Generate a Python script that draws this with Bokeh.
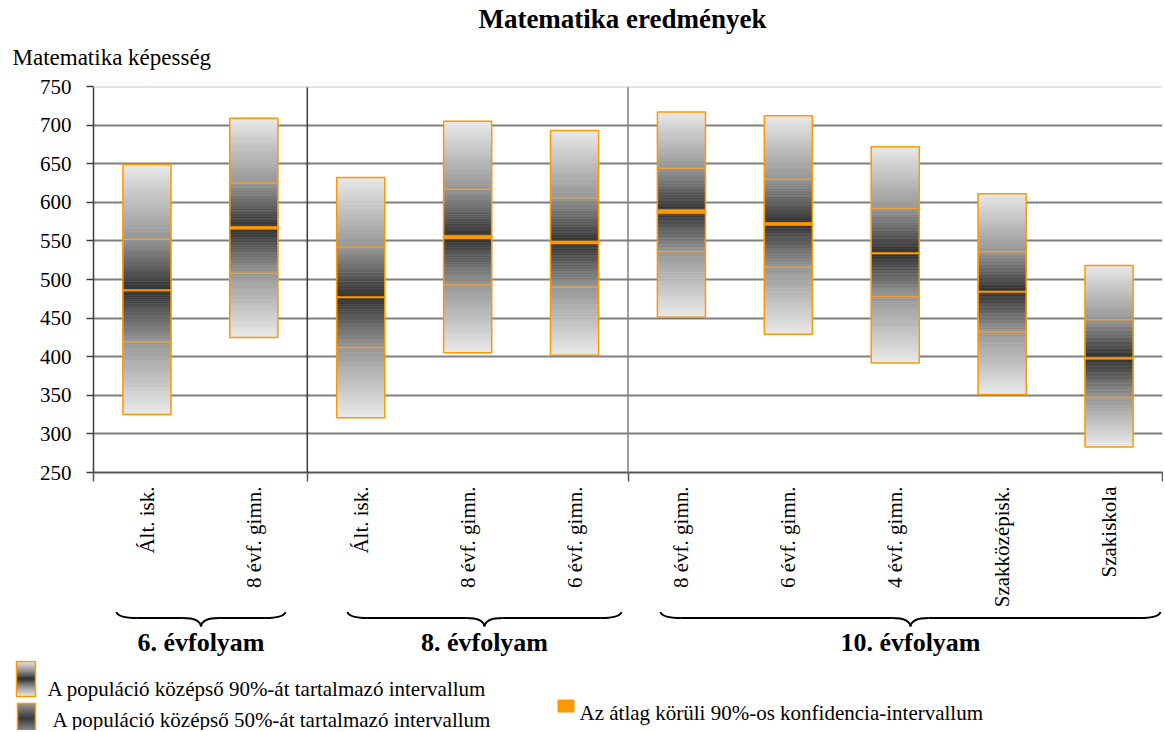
import numpy as np
from math import pi
from bokeh.plotting import figure
from bokeh.models import Range1d, FixedTicker, Span, CustomJSTickFormatter, LinearAxis
from bokeh.embed import file_html
from bokeh.resources import INLINE
from bokeh.core.properties import value

# ---------------- DATA ----------------
categories = ["Ált. isk.", "8 évf. gimn.",
              "Ált. isk.", "8 évf. gimn.", "6 évf. gimn.",
              "8 évf. gimn.", "6 évf. gimn.", "4 évf. gimn.", "Szakközépisk.", "Szakiskola"]
group_names = ["6. évfolyam", "8. évfolyam", "10. évfolyam"]
group_sizes = [2, 3, 5]
p05 = [325, 425, 321, 405, 402, 451, 429, 392, 351, 283]
p25 = [419, 508, 412, 493, 490, 536, 516, 478, 432, 347]
mean = [486, 567, 477, 555, 548, 588, 572, 534, 484, 398]
p75 = [552, 625, 542, 617, 606, 644, 630, 592, 536, 448]
p95 = [649, 709, 632, 705, 693, 717, 712, 672, 611, 518]
ci_half = [1.0, 2.0, 1.0, 2.4, 2.0, 2.8, 2.0, 1.0, 1.0, 1.3]
y_ticks = [250, 300, 350, 400, 450, 500, 550, 600, 650, 700, 750]
legend_labels = ["A populáció középső 90%-át tartalmazó intervallum",
                 "A populáció középső 50%-át tartalmazó intervallum",
                 "Az átlag körüli 90%-os konfidencia-intervallum"]
title_text = "Matematika eredmények"
y_label_text = "Matematika képesség"

# ---------------- STYLE / LAYOUT ----------------
FONT = "Liberation Serif"
ORANGE = "#FF9900"
QLINE = "#E8A040"
LIGHT = (233, 233, 233)
MID = (150, 150, 150)
DARK = (48, 48, 48)
W = 1163
BL, BR = 93, 1
HEAD_H = 74
MAIN_H, MAIN_TOP, MAIN_BOT = 536, 12, 134
BRACE_H = 50
LEG_H = 70
BW = 0.45
BRACE_SPANS = [(0.215, 1.796), (2.376, 4.939), (5.304, 9.981)]


def hexc(c):
    return "#%02x%02x%02x" % tuple(int(round(v)) for v in c)


def mix(a, b, t):
    return tuple(a[i] + (b[i] - a[i]) * t for i in range(3))


def stripes(x0, x1, stops, n=24, acc=None):
    if acc is None:
        acc = dict(left=[], right=[], top=[], bottom=[], color=[])
    for (ya, ca), (yb, cb) in zip(stops[:-1], stops[1:]):
        edges = np.linspace(ya, yb, n + 1)
        for k in range(n):
            t = (k + 0.5) / n
            acc["left"].append(x0)
            acc["right"].append(x1)
            acc["top"].append(float(edges[k]))
            acc["bottom"].append(float(edges[k + 1]))
            acc["color"].append(hexc(mix(ca, cb, t)))
    return acc


def blank(height, **kw):
    f = figure(width=W, height=height, output_backend="svg", toolbar_location=None,
               x_axis_type=None, y_axis_type=None, **kw)
    f.outline_line_color = None
    return f


N = len(categories)
xc = np.arange(N) + 0.5
left = xc - BW / 2
right = xc + BW / 2

# ---------------- HEADER ----------------
head = blank(HEAD_H, x_range=Range1d(0, W), y_range=Range1d(HEAD_H, 0), min_border=0)
head.text(x=[622], y=[18], text=[title_text], text_font=value(FONT), text_font_style="bold",
          text_font_size="27px", text_align="center", text_baseline="middle", text_color="black")
head.text(x=[12], y=[57], text=[y_label_text], text_font=value(FONT),
          text_font_size="23px", text_align="left", text_baseline="middle", text_color="black")

# ---------------- MAIN ----------------
main = figure(width=W, height=MAIN_H, x_range=Range1d(0, N), y_range=Range1d(y_ticks[0], y_ticks[-1]),
              output_backend="svg", toolbar_location=None, x_axis_type=None,
              min_border_left=BL, min_border_right=BR, min_border_top=MAIN_TOP, min_border_bottom=MAIN_BOT)
main.outline_line_color = None

acc = None
for i in range(N):
    stops = [(p95[i], LIGHT), (p75[i], MID), (mean[i], DARK), (p25[i], MID), (p05[i], LIGHT)]
    acc = stripes(float(left[i]), float(right[i]), stops, n=28, acc=acc)
main.quad(left=acc["left"], right=acc["right"], top=acc["top"], bottom=acc["bottom"],
          fill_color=acc["color"], line_color=acc["color"], line_width=0.6)

main.segment(x0=left, y0=p25, x1=right, y1=p25, line_color=QLINE, line_width=1.5)
main.segment(x0=left, y0=p75, x1=right, y1=p75, line_color=QLINE, line_width=1.5)
main.quad(left=left, right=right,
          top=[m + c for m, c in zip(mean, ci_half)], bottom=[m - c for m, c in zip(mean, ci_half)],
          fill_color=ORANGE, line_color=ORANGE, line_width=0.6)
main.quad(left=left, right=right, top=p95, bottom=p05, fill_color=None,
          line_color=ORANGE, line_width=1.5)

bounds = [0] + [int(v) for v in np.cumsum(group_sizes)]
sep_colors = ["#3a3a3a", "#7f7f7f"]
for b, col in zip(bounds[1:-1], sep_colors):
    main.add_layout(Span(location=float(b), dimension="height", line_color=col, line_width=1.5))
main.add_layout(Span(location=y_ticks[-1], dimension="width", line_color="#c8c8c8", line_width=2))

# axis with group-boundary ticks (closest to the frame)
tick_axis = LinearAxis(ticker=FixedTicker(ticks=[float(b) for b in bounds]),
                       formatter=CustomJSTickFormatter(code="return '';"),
                       major_label_text_font_size="0px", major_label_standoff=0,
                       major_tick_in=0, major_tick_out=9, major_tick_line_color="#555555",
                       major_tick_line_width=1.5, minor_tick_line_color=None,
                       axis_line_color="#555555", axis_line_width=2)
main.add_layout(tick_axis, "below")

# axis with category labels
cat_axis = LinearAxis(ticker=FixedTicker(ticks=[float(v) for v in xc]),
                      formatter=CustomJSTickFormatter(
                          args=dict(labels=categories),
                          code="const i = Math.floor(tick); return (i >= 0 && i < labels.length) ? labels[i] : '';"),
                      major_label_orientation=pi / 2, major_label_text_font=FONT,
                      major_label_text_font_size="21px", major_label_text_color="black",
                      major_label_standoff=5, major_tick_in=0, major_tick_out=0,
                      major_tick_line_color=None, minor_tick_line_color=None, axis_line_color=None)
main.add_layout(cat_axis, "below")

main.yaxis.ticker = FixedTicker(ticks=y_ticks)
main.yaxis.major_label_text_font = FONT
main.yaxis.major_label_text_font_size = "21px"
main.yaxis.major_label_text_color = "black"
main.yaxis.major_tick_in = 0
main.yaxis.major_tick_out = 7
main.yaxis.major_tick_line_color = "#404040"
main.yaxis.major_tick_line_width = 1.5
main.yaxis.minor_tick_line_color = None
main.yaxis.axis_line_color = "#404040"
main.yaxis.axis_line_width = 1.5
main.yaxis.major_label_standoff = 15

main.ygrid.ticker = FixedTicker(ticks=y_ticks[1:-1])
main.ygrid.grid_line_color = "#7f7f7f"
main.ygrid.grid_line_width = 2

# ---------------- BRACES ----------------
braces = blank(BRACE_H, x_range=Range1d(0, N), y_range=Range1d(BRACE_H, 0),
               min_border_left=BL, min_border_right=BR, min_border_top=0, min_border_bottom=0)
Y_END, Y_MID, Y_TIP = 1.5, 7.5, 16
R_END, R_TIP = 0.19, 0.17
qx0, qy0, qx1, qy1, qcx, qcy = [], [], [], [], [], []
sx0, sx1 = [], []
for (a, b) in BRACE_SPANS:
    c = (a + b) / 2
    qx0 += [a, c - R_TIP, b, c + R_TIP]
    qy0 += [Y_END, Y_MID, Y_END, Y_MID]
    qx1 += [a + R_END, c, b - R_END, c]
    qy1 += [Y_MID, Y_TIP, Y_MID, Y_TIP]
    qcx += [a + 0.015, c - 0.01, b - 0.015, c + 0.01]
    qcy += [Y_MID] * 4
    sx0 += [a + R_END, c + R_TIP]
    sx1 += [c - R_TIP, b - R_END]
braces.quadratic(x0=qx0, y0=qy0, x1=qx1, y1=qy1, cx=qcx, cy=qcy, line_color="black", line_width=2)
braces.segment(x0=sx0, y0=[Y_MID] * len(sx0), x1=sx1, y1=[Y_MID] * len(sx0), line_color="black", line_width=2)
braces.text(x=[(a + b) / 2 for a, b in BRACE_SPANS], y=[32] * 3, text=group_names,
            text_font=value(FONT), text_font_style="bold", text_font_size="26px",
            text_align="center", text_baseline="middle", text_color="black")

# ---------------- LEGEND ----------------
leg = blank(LEG_H, x_range=Range1d(0, W), y_range=Range1d(LEG_H, 0), min_border=0)
icons = stripes(16, 35, [(1, LIGHT), (9.8, MID), (18.5, DARK), (27.2, MID), (36, LIGHT)], n=9)
icons = stripes(17, 35, [(43, MID), (58, DARK), (73, MID)], n=15, acc=icons)
leg.quad(left=icons["left"], right=icons["right"], top=icons["top"], bottom=icons["bottom"],
         fill_color=icons["color"], line_color=icons["color"], line_width=0.6)
leg.quad(left=[16, 17], right=[35, 35], top=[1, 43], bottom=[36, 80], fill_color=None,
         line_color=ORANGE, line_width=1.5)
leg.quad(left=[557], right=[574], top=[39], bottom=[52], fill_color=ORANGE, line_color=None)
leg.text(x=[47, 52, 579], y=[28, 59, 52], text=legend_labels, text_font=value(FONT),
         text_font_size="21px", text_align="left", text_baseline="middle", text_color="black")

open("out.html", "w").write(file_html([head, main, braces, leg], INLINE))
